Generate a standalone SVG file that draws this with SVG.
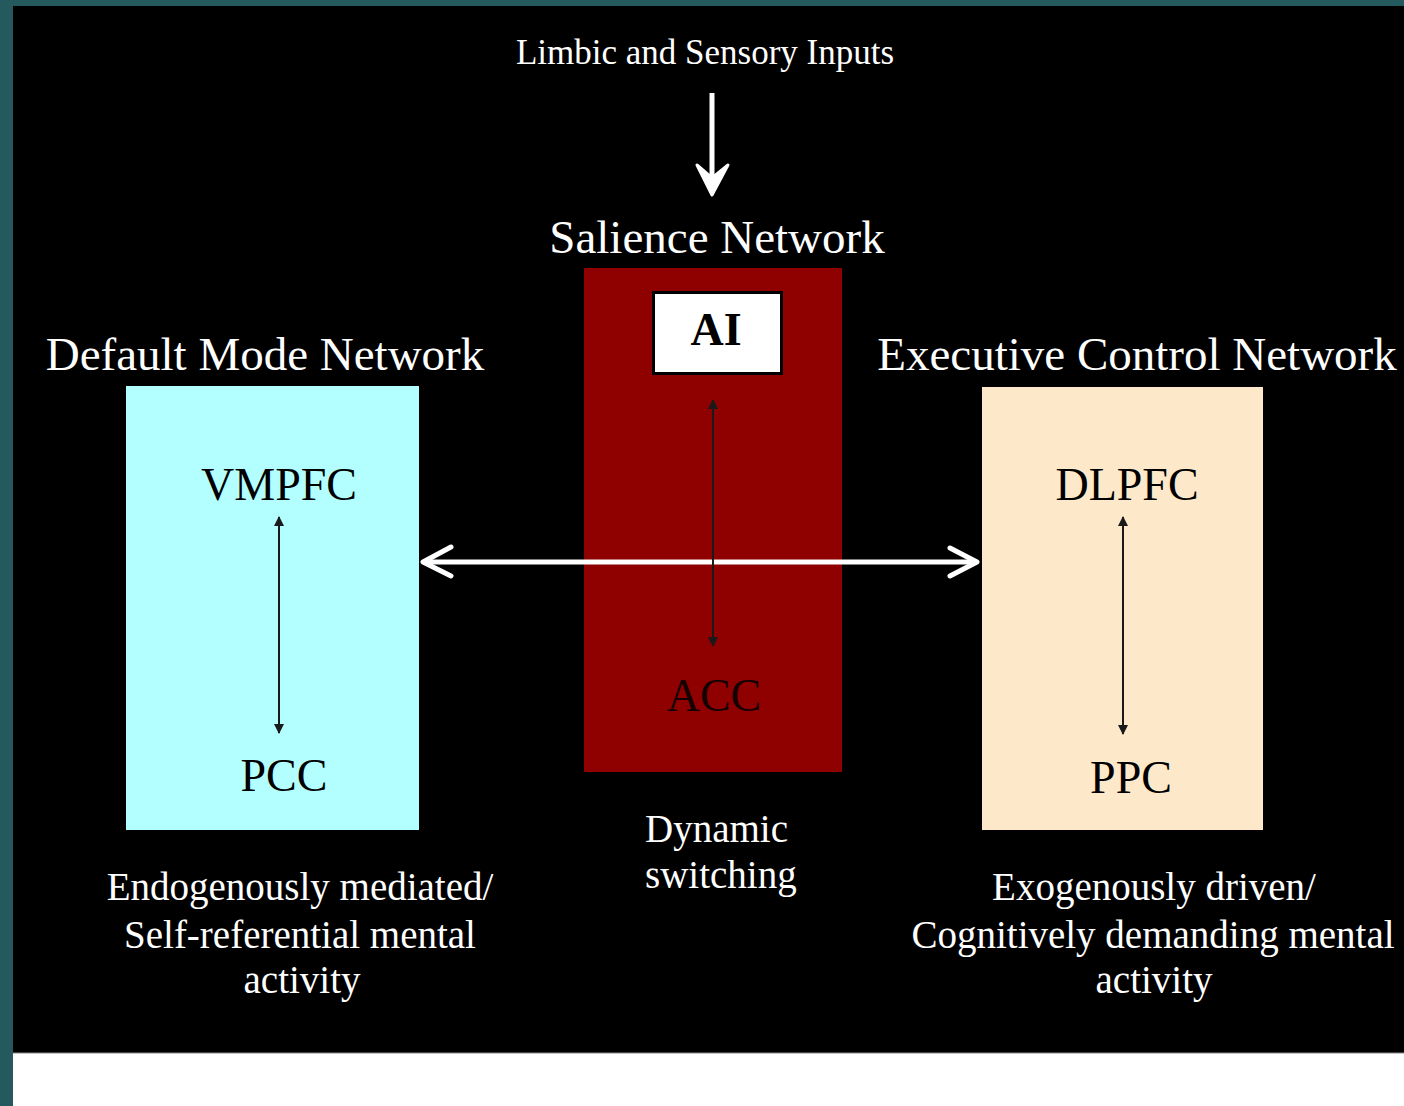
<svg xmlns="http://www.w3.org/2000/svg" width="1404" height="1106" viewBox="0 0 1404 1106">
<style>
.t{font-family:"Liberation Serif","Times New Roman",serif;fill:#ffffff;}
.k{font-family:"Liberation Serif","Times New Roman",serif;fill:#000000;}
.thin{stroke:#1a1a1a;stroke-width:2;fill:none;}
.wide{stroke:#ffffff;stroke-width:5;fill:none;stroke-linecap:round;stroke-linejoin:round;}
</style>
<defs>
<marker id="tri" viewBox="0 0 10 10" refX="9" refY="5" markerWidth="5" markerHeight="5" orient="auto-start-reverse" markerUnits="strokeWidth">
<path d="M0,0 L10,5 L0,10 z" fill="#1a1a1a"/>
</marker>
</defs>
<rect x="0" y="0" width="1404" height="1106" fill="#245a5e"/>
<rect x="13" y="6" width="1391" height="1047" fill="#000000"/>
<rect x="13" y="1053" width="1391" height="53" fill="#ffffff"/>
<line x1="13" y1="1053" x2="1404" y2="1053" stroke="#888888" stroke-width="1"/>

<text class="t" x="705" y="64" font-size="35" text-anchor="middle">Limbic and Sensory Inputs</text>

<g id="salience">
<text class="t" x="717" y="253" font-size="47" text-anchor="middle">Salience Network</text>
<rect x="584" y="268" width="258" height="504" fill="#8f0000"/>
<g id="ai">
<rect x="653.5" y="292.5" width="128" height="81" fill="#ffffff" stroke="#000000" stroke-width="3"/>
<text class="k" x="716" y="345" font-size="46" font-weight="bold" text-anchor="middle">AI</text>
</g>
<text x="714" y="711" font-size="46" text-anchor="middle" font-family="Liberation Serif, Times New Roman, serif" fill="#140000">ACC</text>
</g>

<g id="dmn">
<text class="t" x="265" y="370" font-size="47" text-anchor="middle">Default Mode Network</text>
<rect x="126" y="386" width="293" height="444" fill="#b3ffff"/>
<text class="k" x="279" y="500" font-size="46" text-anchor="middle">VMPFC</text>
<text class="k" x="284" y="791" font-size="46" text-anchor="middle">PCC</text>
</g>

<g id="ecn">
<text class="t" x="1137" y="370" font-size="47" text-anchor="middle">Executive Control Network</text>
<rect x="982" y="387" width="281" height="443" fill="#fde9c9"/>
<text class="k" x="1127" y="500" font-size="46" text-anchor="middle">DLPFC</text>
<text class="k" x="1131" y="793" font-size="46" text-anchor="middle">PPC</text>
</g>

<g id="captions">
<text class="t" font-size="39" x="645" y="842">Dynamic</text>
<text class="t" font-size="39" x="645" y="888">switching</text>
<text class="t" font-size="39" text-anchor="middle" x="300" y="900">Endogenously mediated/</text>
<text class="t" font-size="39" text-anchor="middle" x="300" y="948">Self-referential mental</text>
<text class="t" font-size="39" text-anchor="middle" x="302" y="993">activity</text>
<text class="t" font-size="39" text-anchor="middle" x="1154" y="900">Exogenously driven/</text>
<text class="t" font-size="39" text-anchor="middle" x="1153" y="948">Cognitively demanding mental</text>
<text class="t" font-size="39" text-anchor="middle" x="1154" y="993">activity</text>
</g>

<g id="connectors">
<line x1="712" y1="93" x2="712" y2="180" stroke="#ffffff" stroke-width="5"/>
<polygon points="697,165 712,195 728,165 712,178" fill="#ffffff" stroke="#ffffff" stroke-width="3" stroke-linejoin="round"/>
<line class="wide" x1="424" y1="562" x2="976" y2="562"/>
<polyline class="wide" points="451,547 423,562 451,576"/>
<polyline class="wide" points="950,548 977,562 950,576"/>
<line class="thin" x1="279" y1="517" x2="279" y2="733" marker-start="url(#tri)" marker-end="url(#tri)"/>
<line class="thin" x1="713" y1="400" x2="713" y2="646" marker-start="url(#tri)" marker-end="url(#tri)"/>
<line class="thin" x1="1123" y1="517" x2="1123" y2="734" marker-start="url(#tri)" marker-end="url(#tri)"/>
</g>
</svg>
